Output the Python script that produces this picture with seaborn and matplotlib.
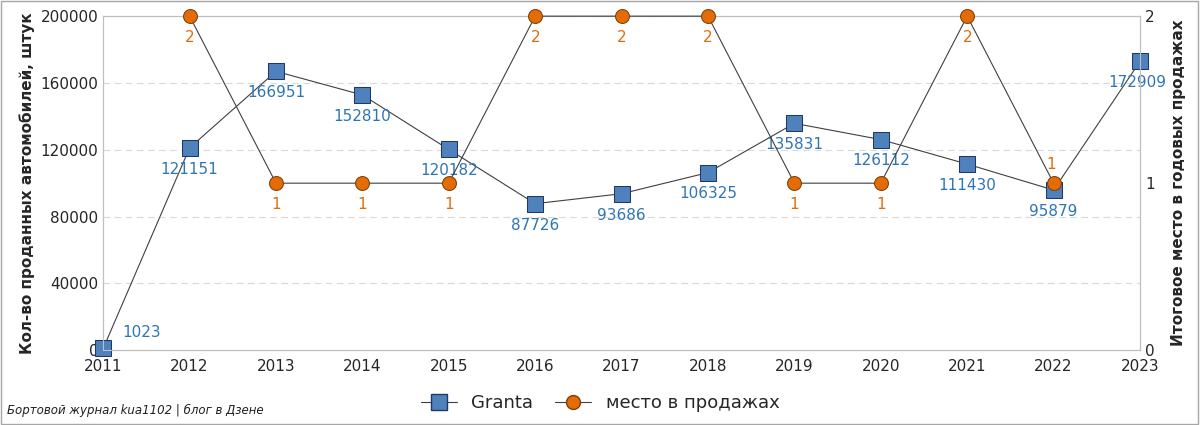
import matplotlib
matplotlib.use("Agg")
import matplotlib.pyplot as plt
import seaborn as sns
import pandas as pd
from matplotlib.patches import Rectangle
from matplotlib.lines import Line2D

years = list(range(2011, 2024))
granta = [1023, 121151, 166951, 152810, 120182, 87726, 93686, 106325, 135831, 126112, 111430, 95879, 172909]
place_years = list(range(2012, 2023))
place = [2, 1, 1, 1, 2, 2, 2, 1, 1, 2, 1]

df1 = pd.DataFrame({"year": years, "v": granta})
df2 = pd.DataFrame({"year": place_years, "p": place})

sns.set_style("white")
fig = plt.figure(figsize=(12, 4.25), dpi=100)
ax = fig.add_axes([0.086, 0.176, 0.864, 0.786])
ax2 = ax.twinx()

sns.lineplot(data=df1, x="year", y="v", ax=ax, color="#404040", lw=0.8, marker="s",
             markersize=11, markerfacecolor="#4F81BD", markeredgecolor="#1F3864", zorder=3, clip_on=False)
sns.lineplot(data=df2, x="year", y="p", ax=ax2, color="#404040", lw=0.8, marker="o",
             markersize=10, markerfacecolor="#E36C09", markeredgecolor="#7F3F00", zorder=3, clip_on=False)

for x, v in zip(years, granta):
    if x == 2011:
        ax.annotate(str(v), (x, v), xytext=(14, 6), textcoords="offset points", color="#2E75B6", fontsize=11, va="bottom", ha="left")
    elif x == 2023:
        ax.annotate(str(v), (x, v), xytext=(-2, -10), textcoords="offset points", color="#2E75B6", fontsize=11, va="top", ha="center")
    else:
        ax.annotate(str(v), (x, v), xytext=(0, -10), textcoords="offset points", color="#2E75B6", fontsize=11, va="top", ha="center")
for x, p in zip(place_years, place):
    if x == 2022:
        ax2.annotate(str(p), (x, p), xytext=(-2, 8), textcoords="offset points", color="#E36C09", fontsize=11, va="bottom", ha="center")
    else:
        ax2.annotate(str(p), (x, p), xytext=(0, -10), textcoords="offset points", color="#E36C09", fontsize=11, va="top", ha="center")

ax.set_xlim(2011, 2023)
ax.set_ylim(0, 200000)
ax.set_yticks(range(0, 200001, 40000))
ax.set_xticks(years)
ax2.set_ylim(0, 2)
ax2.set_yticks([0, 1, 2])
ax.yaxis.grid(True, color="#D9D9D9", ls=(0, (6, 4)), lw=0.8)
ax.set_xlabel("")
ax.set_ylabel("Кол-во проданных автомобилей, штук", fontsize=11, fontweight="bold")
ax2.set_ylabel("Итоговое место в годовых продажах", fontsize=11, fontweight="bold", labelpad=12)
for a in (ax, ax2):
    a.tick_params(labelsize=11, length=0)
    for s in a.spines.values():
        s.set_color("#BFBFBF")
ax.tick_params(axis="x", pad=6)

h = [Line2D([], [], color="#404040", lw=0.8, marker="s", markersize=11, markerfacecolor="#4F81BD", markeredgecolor="#1F3864"),
     Line2D([], [], color="#404040", lw=0.8, marker="o", markersize=10, markerfacecolor="#E36C09", markeredgecolor="#7F3F00")]
fig.legend(h, ["Granta", "место в продажах"], loc="center", bbox_to_anchor=(0.5, 0.052), ncol=2,
           frameon=False, fontsize=13, handlelength=2, columnspacing=1.2)
fig.text(0.006, 0.025, "Бортовой журнал kua1102 | блог в Дзене", fontsize=8.5, style="italic", color="#202020")
fig.patches.append(Rectangle((0.001, 0.002), 0.997, 0.995, transform=fig.transFigure, fill=False, ec="#A6A6A6", lw=1))
fig.savefig("out.png", dpi=100)
